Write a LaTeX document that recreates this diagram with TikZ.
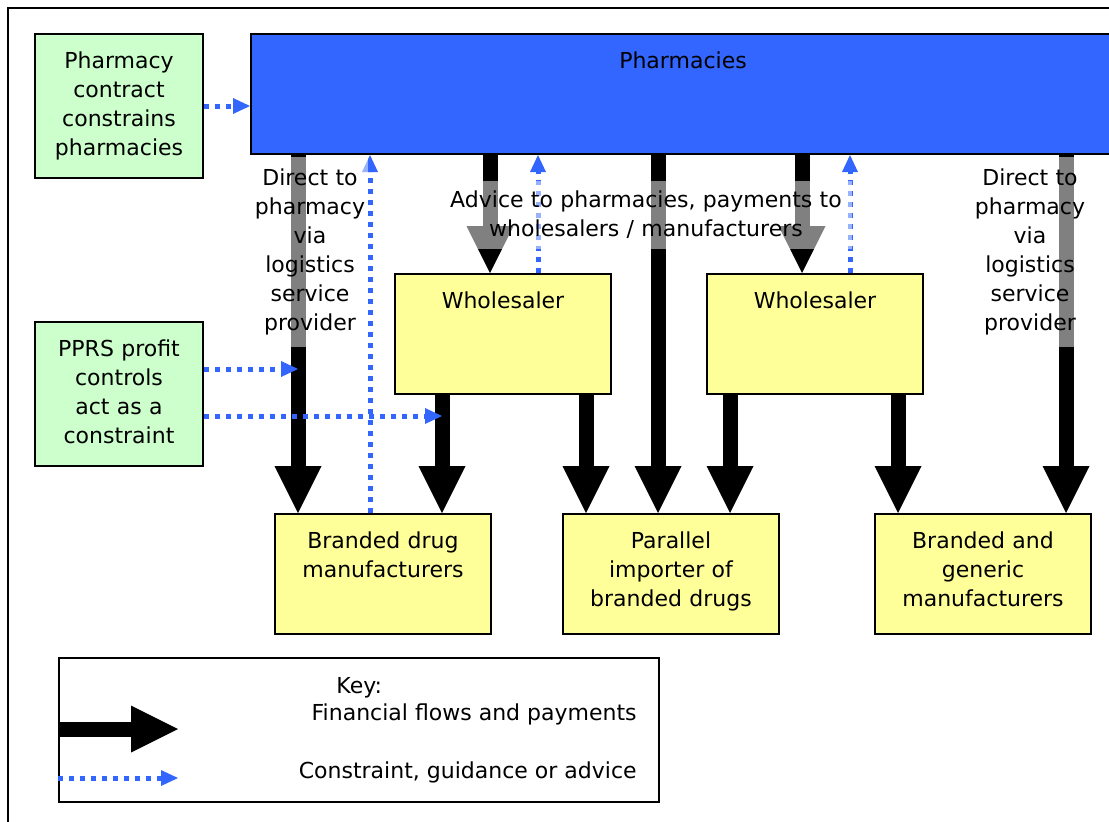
\documentclass[tikz,border=0pt]{standalone}
\usepackage{fontspec}
\setmainfont{DejaVu Sans}
\usetikzlibrary{arrows.meta}
\definecolor{phblue}{HTML}{3366FF}
\definecolor{regfill}{HTML}{CCFFCC}
\definecolor{firmfill}{HTML}{FFFF99}
\begin{document}
\begin{tikzpicture}[x=0.5pt,y=-0.5pt,
  every node/.style={font=\fontsize{11}{14.5}\selectfont, inner sep=0pt},
  box/.style={draw, line width=1pt, anchor=north west, align=center, text height=17pt},
  firm/.style={box, fill=firmfill, text width=108pt, text depth=43pt},
  rule/.style={box, fill=regfill, text width=84pt, text depth=55pt},
  money/.style={line width=7.5pt, -{Triangle[length=23.5pt,width=23.5pt,line width=0pt]}},
  advice/.style={draw=phblue, line width=2.5pt, dash pattern=on 2.5pt off 3pt,
    -{Triangle[length=8.5pt,width=8pt,line width=0pt]}},
  note/.style={fill=white, fill opacity=0.5, text opacity=1, inner xsep=1pt, inner ysep=5pt, align=center}]
\useasboundingbox (0,0) rectangle (1109,821);
\clip (0,0) rectangle (1109,821);
\draw[line width=1pt] (8,8) rectangle (1140,850);

\node[box, fill=phblue, minimum width=432pt, text depth=43pt] (ph) at (250,33) {Pharmacies};
\node[rule] (pc) at (34,33) {Pharmacy\\contract\\constrains\\pharmacies};
\node[rule] (pprs) at (34,321) {PPRS profit\\controls\\act as a\\constraint};
\node[firm] (w1) at (394,273) {Wholesaler};
\node[firm] (w2) at (706,273) {Wholesaler};
\node[firm] (bd) at (274,513) {Branded drug\\manufacturers};
\node[firm] (pi) at (562,513) {Parallel\\importer of\\branded drugs};
\node[firm] (bg) at (874,513) {Branded and\\generic\\manufacturers};

\foreach \n/\x in {m1/298,m2/442,m3/586,m4/658,m5/730,m6/898,m7/1066,m8/490,m9/802,v1/370,v2/538,v3/850}
  \coordinate (\n) at (\x,0);
\coordinate (pa) at (298,369);
\coordinate (pb) at (442,416);

\draw[money] (ph.south -| m1) -- (bd.north -| m1);
\draw[money] (w1.south -| m2) -- (bd.north -| m2);
\draw[money] (w1.south -| m3) -- (pi.north -| m3);
\draw[money] (ph.south -| m4) -- (pi.north -| m4);
\draw[money] (w2.south -| m5) -- (pi.north -| m5);
\draw[money] (w2.south -| m6) -- (bg.north -| m6);
\draw[money] (ph.south -| m7) -- (bg.north -| m7);
\draw[money] (ph.south -| m8) -- (w1.north -| m8);
\draw[money] (ph.south -| m9) -- (w2.north -| m9);

\draw[advice] (pc.east) -- (ph.west |- pc.east);
\draw[advice] (pprs.east |- pa) -- (pa);
\draw[advice] (pprs.east |- pb) -- (pb);
\draw[advice] (bd.north -| v1) -- (ph.south -| v1);
\draw[advice] (w1.north -| v2) -- (ph.south -| v2);
\draw[advice] (w2.north -| v3) -- (ph.south -| v3);

\node[note, text width=56pt, inner ysep=6pt] (nl) at (310,252) {Direct to\\pharmacy\\via\\logistics\\service\\provider};
\node[note, text width=56pt, inner ysep=6pt] (nr) at (1030,252) {Direct to\\pharmacy\\via\\logistics\\service\\provider};
\node[note, text width=200pt, inner xsep=3pt] (nm) at (646,215) {Advice to pharmacies, payments to\\wholesalers / manufacturers};

\node[draw, line width=1pt, anchor=north west, minimum width=300pt, minimum height=72pt] (key) at (58,657) {};
\coordinate (k1) at (178,729);
\coordinate (k2) at (178,778);
\draw[money] (key.west |- k1) -- (k1);
\draw[advice] (key.west |- k2) -- (k2);
\node[anchor=base west] (keyt) at (336,693) {Key:};
\node[anchor=base east] (keyf) at (637,720) {Financial flows and payments};
\node[anchor=base east] (keya) at (637,778) {Constraint, guidance or advice};
\end{tikzpicture}
\end{document}
